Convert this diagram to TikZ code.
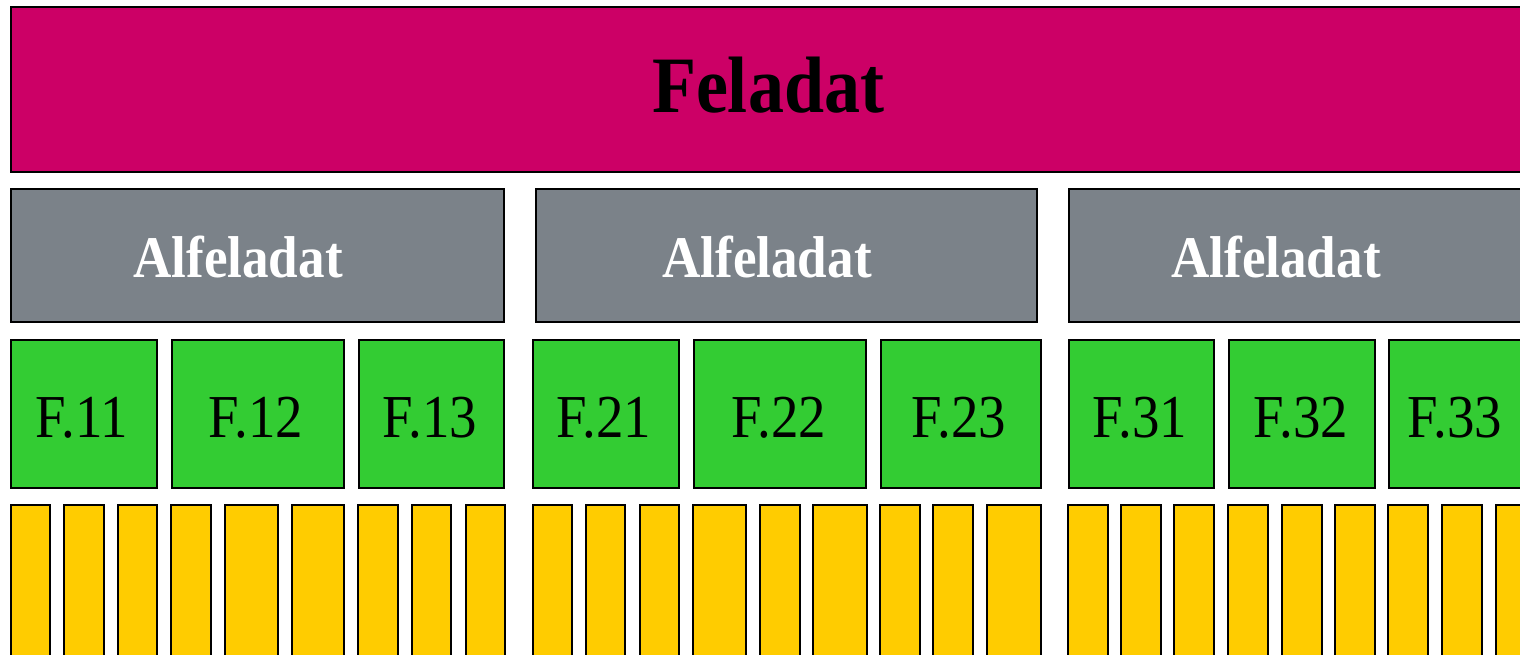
\documentclass[tikz,border=0pt]{standalone}
\usepackage{fontspec}
\setmainfont{Liberation Serif}[FakeStretch=0.9]
\definecolor{magentabox}{RGB}{204,0,102}
\definecolor{graybox}{RGB}{123,130,137}
\definecolor{greenbox}{RGB}{51,204,51}
\definecolor{yellowbox}{RGB}{255,204,0}
\tikzset{
  base/.style={draw=black, line width=2pt, inner sep=0pt, outer sep=0pt, anchor=north west},
  topbox/.style={base, fill=magentabox},
  subbox/.style={base, fill=graybox},
  fbox/.style={base, fill=greenbox},
  ybar/.style={base, fill=yellowbox},
  toptext/.style={anchor=base, inner sep=0pt, font=\fontsize{80}{80}\selectfont\bfseries, text=black},
  subtext/.style={anchor=base, inner sep=0pt, font=\fontsize{59}{59}\selectfont\bfseries, text=white},
  ftext/.style={anchor=base, inner sep=0pt, font=\fontsize{61}{61}\selectfont, text=black}
}
\newcommand\bx[6]{\node[#1, minimum width={(#4-#2)*1pt}, minimum height={(#5-#3)*1pt}] (#6) at (#2,#3) {};}
\begin{document}
\begin{tikzpicture}[x=1pt,y=-1pt]
\useasboundingbox (0,0) rectangle (1520,654);
\clip (0,0) rectangle (1520,654);
% top
\bx{topbox}{11}{7}{1563}{172}{top}
\node[toptext] (toplbl) at (768,112) {Feladat};
% sub tasks
\bx{subbox}{11}{189}{504}{322}{s1}
\bx{subbox}{536}{189}{1037}{322}{s2}
\bx{subbox}{1069}{189}{1570}{322}{s3}
\node[subtext] (s1lbl) at (238,277) {Alfeladat};
\node[subtext] (s2lbl) at (767,277) {Alfeladat};
\node[subtext] (s3lbl) at (1276,277) {Alfeladat};
% F boxes
\bx{fbox}{11}{340}{157}{488}{f11}
\bx{fbox}{172}{340}{344}{488}{f12}
\bx{fbox}{359}{340}{504}{488}{f13}
\bx{fbox}{533}{340}{679}{488}{f21}
\bx{fbox}{694}{340}{866}{488}{f22}
\bx{fbox}{881}{340}{1041}{488}{f23}
\bx{fbox}{1069}{340}{1214}{488}{f31}
\bx{fbox}{1229}{340}{1375}{488}{f32}
\bx{fbox}{1389}{340}{1535}{488}{f33}
\node[ftext] (f11lbl) at (82,437) {F.11};
\node[ftext] (f12lbl) at (256,437) {F.12};
\node[ftext] (f13lbl) at (430,437) {F.13};
\node[ftext] (f21lbl) at (604,437) {F.21};
\node[ftext] (f22lbl) at (779,437) {F.22};
\node[ftext] (f23lbl) at (959,437) {F.23};
\node[ftext] (f31lbl) at (1140,437) {F.31};
\node[ftext] (f32lbl) at (1301,437) {F.32};
\node[ftext] (f33lbl) at (1455,437) {F.33};
% yellow bars
\foreach \a/\b [count=\i] in {11/50,64/104,118/157,171/211,225/278,292/344,358/398,412/451,466/505,
  533/572,586/625,640/679,693/746,760/800,813/867,880/920,933/973,987/1041,
  1068/1108,1121/1161,1174/1214,1228/1268,1282/1322,1335/1375,1388/1428,1442/1482,1496/1535}
  {\bx{ybar}{\a}{505}{\b}{700}{bar\i}}
\end{tikzpicture}
\end{document}
